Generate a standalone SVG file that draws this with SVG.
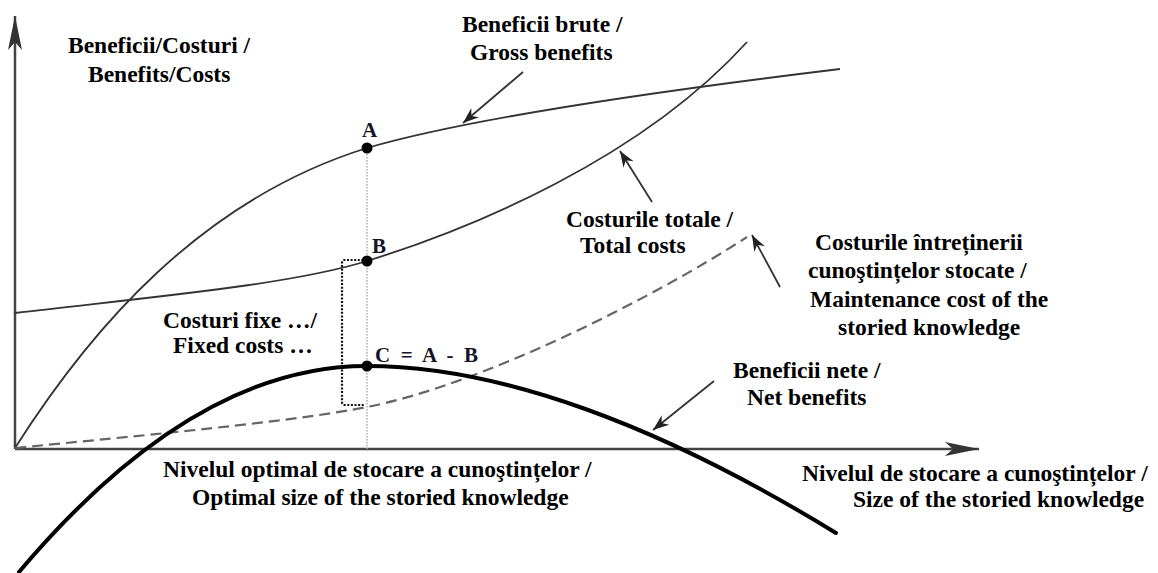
<svg xmlns="http://www.w3.org/2000/svg" width="1158" height="573" viewBox="0 0 1158 573">
<style>
.t{font-family:"Liberation Serif","Times New Roman",serif;font-weight:bold;font-size:23.5px;fill:#000}
.lb{font-family:"Liberation Serif","Times New Roman",serif;font-weight:bold;font-size:21px;fill:#141428}
.axis{stroke:#444;stroke-width:2.5;fill:none}
.curve{stroke:#333;stroke-width:1.8;fill:none}
.net{stroke:#000;stroke-width:4;fill:none;stroke-linecap:round}
.dash{stroke:#666;stroke-width:2.2;fill:none;stroke-dasharray:11 6}
.guide{stroke:#aaa;stroke-width:1.5;fill:none;stroke-dasharray:1.5 1.5}
.bracket{stroke:#111;stroke-width:2.2;fill:none;stroke-dasharray:2 1.6}
.call{stroke:#333;stroke-width:1.8;fill:none}
</style>
<defs>
<marker id="barb" markerUnits="userSpaceOnUse" markerWidth="20" markerHeight="16" viewBox="-16 -8 18 16" refX="0" refY="0" orient="auto">
<path d="M0,0 L-16,-6 L-11,0 L-16,6 Z" fill="#222"/>
</marker>
<marker id="axhead" markerUnits="userSpaceOnUse" markerWidth="40" markerHeight="20" viewBox="-36 -10 38 20" refX="0" refY="0" orient="auto">
<path d="M0,0 L-34,-7 L-26,0 L-34,7 Z" fill="#333"/>
</marker>
</defs>
<g id="axes">
<line class="axis" x1="15" y1="449" x2="15" y2="16" marker-end="url(#axhead)"/>
<line class="axis" x1="15" y1="449" x2="979" y2="449" marker-end="url(#axhead)"/>
</g>
<g id="connectors">
<line class="guide" x1="367" y1="148" x2="367" y2="449"/>
<path class="bracket" d="M367,260 L345,260 Q342,260 342,263 L342,402 Q342,405 345,405 L364,405"/>
<line class="call" x1="523" y1="72" x2="463" y2="123" marker-end="url(#barb)"/>
<line class="call" x1="652" y1="202" x2="620" y2="151" marker-end="url(#barb)"/>
<line class="call" x1="780" y1="287" x2="752" y2="235" marker-end="url(#barb)"/>
<line class="call" x1="714" y1="381" x2="653" y2="430" marker-end="url(#barb)"/>
</g>
<g id="gross-benefits">
<path class="curve" d="M15,448 C90,330 200,200 367,148 C470,118 650,92 840,69"/>
</g>
<g id="total-costs">
<path class="curve" d="M15,313 C150,297 290,285 367,261 C470,229 640,160 747,42"/>
</g>
<g id="maintenance-cost">
<path class="dash" d="M15,448 C200,430 300,420 367,407 C480,385 650,300 747,237"/>
</g>
<g id="net-benefits">
<path class="net" d="M19,572 Q193,366 367,366 C500,366 660,425 836,533"/>
</g>
<g id="point-A">
<circle cx="367" cy="148" r="5.5" fill="#000"/>
<text class="lb" x="362" y="137">A</text>
</g>
<g id="point-B">
<circle cx="367" cy="261" r="5.5" fill="#000"/>
<text class="lb" x="372" y="253">B</text>
</g>
<g id="point-C">
<circle cx="367" cy="366" r="5.5" fill="#000"/>
<text class="lb" x="375" y="362" textLength="103" lengthAdjust="spacing">C = A - B</text>
</g>
<g id="label-y-axis">
<text class="t" x="68" y="53">Beneficii/Costuri /</text>
<text class="t" x="88" y="82">Benefits/Costs</text>
</g>
<g id="label-gross">
<text class="t" x="462" y="32">Beneficii brute /</text>
<text class="t" x="470" y="60">Gross benefits</text>
</g>
<g id="label-total">
<text class="t" x="566" y="227">Costurile totale /</text>
<text class="t" x="580" y="253">Total costs</text>
</g>
<g id="label-maintenance">
<text class="t" x="815" y="250">Costurile întreținerii</text>
<text class="t" x="808" y="278">cunoştințelor stocate /</text>
<text class="t" x="810" y="307">Maintenance cost of the</text>
<text class="t" x="838" y="335">storied knowledge</text>
</g>
<g id="label-fixed">
<text class="t" x="163" y="328">Costuri fixe …/</text>
<text class="t" x="173" y="353">Fixed costs …</text>
</g>
<g id="label-net">
<text class="t" x="733" y="378">Beneficii nete /</text>
<text class="t" x="747" y="405">Net benefits</text>
</g>
<g id="label-optimal">
<text class="t" x="163" y="477">Nivelul optimal de stocare a cunoştințelor /</text>
<text class="t" x="192" y="505">Optimal size of the storied knowledge</text>
</g>
<g id="label-x-axis">
<text class="t" x="802" y="481">Nivelul de stocare a cunoştințelor /</text>
<text class="t" x="853" y="507">Size of the storied knowledge</text>
</g>
</svg>
